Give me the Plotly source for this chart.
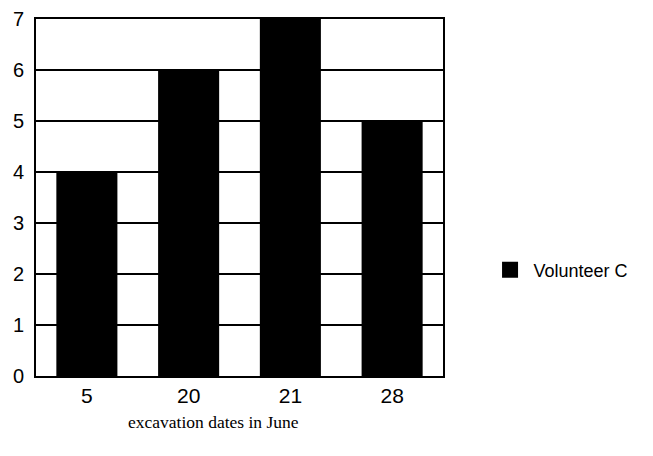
import plotly.graph_objects as go

categories = ["5", "20", "21", "28"]
values = [4, 6, 7, 5]
series_name = "Volunteer C"
y_ticks = [0, 1, 2, 3, 4, 5, 6, 7]
x_title = "excavation dates in June"

fig = go.Figure()
fig.add_trace(go.Bar(x=categories, y=values, name=series_name,
                     marker=dict(color="black", line=dict(width=0)),
                     showlegend=False))
# legend entry with a larger square swatch
fig.add_trace(go.Scatter(x=[None], y=[None], mode="markers", name=series_name,
                         marker=dict(symbol="square", size=17, color="black"),
                         showlegend=True))

fig.update_layout(
    width=653, height=456,
    margin=dict(l=28, r=218, t=11, b=88, autoexpand=False),
    paper_bgcolor="white", plot_bgcolor="white",
    bargap=0.4,
    font=dict(family="Liberation Sans, Arial", size=20, color="black"),
    showlegend=True,
    legend=dict(x=1.107, y=0.297, xanchor="left", yanchor="middle",
                font=dict(size=18, family="Liberation Sans, Arial"),
                bgcolor="rgba(0,0,0,0)", itemwidth=37),
    xaxis=dict(type="category", showline=True, linecolor="black", linewidth=2,
               mirror=True, ticks="", showgrid=False, automargin=False,
               tickfont=dict(size=21)),
    yaxis=dict(range=[0, 7], tickvals=y_ticks, showline=True, linecolor="black",
               linewidth=2, mirror=True, showgrid=True, gridcolor="black",
               gridwidth=1.5, ticks="", zeroline=False, automargin=False,
               ticklabelstandoff=6,
               tickfont=dict(size=20)),
    annotations=[dict(text=x_title, xref="paper", yref="paper",
                      x=0.436, y=-0.095, xanchor="center", yanchor="top",
                      showarrow=False,
                      font=dict(family="Liberation Serif, Times New Roman", size=17.5))],
)

fig.write_html("out.html")
